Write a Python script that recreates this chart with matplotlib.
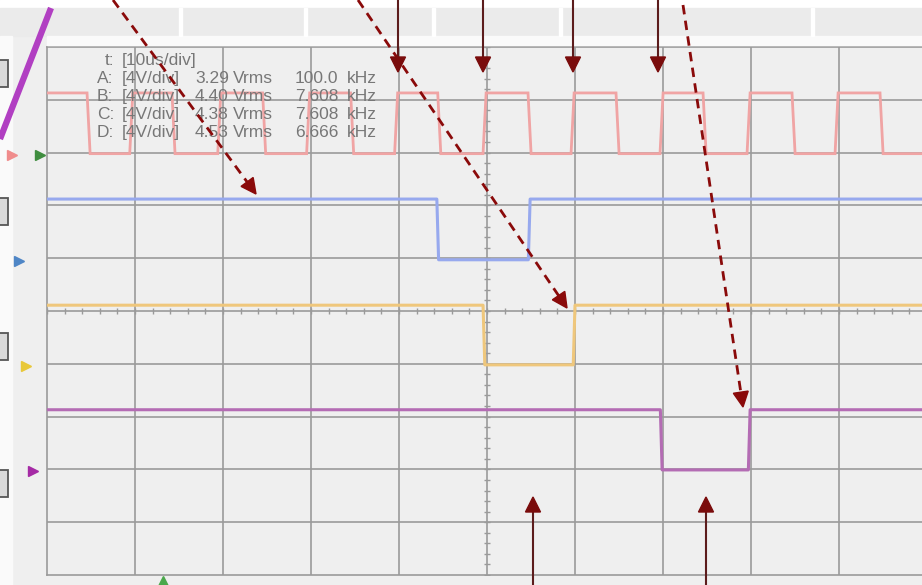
import numpy as np
import matplotlib
matplotlib.use("Agg")
import matplotlib.pyplot as plt
from matplotlib.patches import Rectangle, Polygon

W, H = 922, 585

# ---------------- data (x in divisions of 10 us, y in divisions of 4 V) ----------------
a_fall = [0.455, 1.42, 2.45, 3.45, 4.44, 5.466, 6.466, 7.455, 8.466, 9.466]
a_rise = [0.94, 1.94, 2.95, 3.95, 4.955, 5.955, 6.966, 7.955, 8.955]
a_levels = [7.98, 9.13]          # low, high
b_edges = [4.43, 5.47]
b_levels = [5.97, 7.12]
c_edges = [4.955, 5.98]
c_levels = [3.98, 5.11]
d_edges = [6.97, 7.97]
d_levels = [1.99, 3.13]

timebase = "[10us/div]"
ch_labels = ["A:", "B:", "C:", "D:"]
ch_scale = ["[4V/div]", "[4V/div]", "[4V/div]", "[4V/div]"]
ch_vrms = ["3.29", "4.40", "4.38", "4.53"]
ch_freq = ["100.0", "7.608", "7.608", "6.666"]

# ---------------- figure ----------------
fig = plt.figure(figsize=(W / 100, H / 100), dpi=100)
fig.patch.set_facecolor("#efefef")

px_div_x = 88.0
ax = fig.add_axes([47 / W, (H - 575) / H, (W - 47) / W, 528 / H])
ax.set_facecolor("#efefef")
xmax = (W - 47) / px_div_x
ax.set_xlim(0, xmax)
ax.set_ylim(0, 10)
ax.set_xticks([]); ax.set_yticks([])
gcol = "#9a9a9a"
for s in ["left", "top", "bottom"]:
    ax.spines[s].set_color(gcol); ax.spines[s].set_linewidth(1.2)
ax.spines["right"].set_visible(False)
for i in range(1, 10):
    ax.axvline(i, color=gcol, lw=1.2, zorder=1)
    ax.axhline(i, color=gcol, lw=1.2, zorder=1)
# centre line minor ticks
mt = np.arange(0, 10.01, 0.2)
ax.plot(mt, np.full_like(mt, 5.0), ls="none", marker="|", ms=4, mew=1.0, color=gcol, zorder=1)
ax.plot(np.full_like(mt, 5.0), mt, ls="none", marker="_", ms=4, mew=1.0, color=gcol, zorder=1)


def square(edges, start_high, lo, hi, rt):
    level = hi if start_high else lo
    xs, ys = [0.0], [level]
    for e in sorted(edges):
        xs.append(e); ys.append(level)
        level = lo if level == hi else hi
        xs.append(e + rt); ys.append(level)
    xs.append(xmax + 1); ys.append(level)
    return xs, ys


xa, ya = square(a_fall + a_rise, True, a_levels[0], a_levels[1], 0.035)
ax.plot(xa, ya, color="#f0a4a4", lw=2.0, zorder=3, solid_joinstyle="miter")
xb, yb = square(b_edges, True, b_levels[0], b_levels[1], 0.02)
ax.plot(xb, yb, color="#97a9ee", lw=2.2, zorder=3)
xc, yc = square(c_edges, True, c_levels[0], c_levels[1], 0.02)
ax.plot(xc, yc, color="#efc77c", lw=2.2, zorder=3)
xd, yd = square(d_edges, True, d_levels[0], d_levels[1], 0.02)
ax.plot(xd, yd, color="#b46cb4", lw=2.2, zorder=3)

# ---------------- overlay (pixel coordinates) ----------------
ov = fig.add_axes([0, 0, 1, 1], zorder=5)
ov.set_xlim(0, W); ov.set_ylim(H, 0)
ov.axis("off")
ov.patch.set_alpha(0)

# toolbar & frame
ov.add_patch(Rectangle((0, 0), W, 8, color="white", zorder=1))
ov.add_patch(Rectangle((0, 8), W, 28, color="#ebebeb", zorder=1))
for sx in [180, 305, 433, 560, 812]:
    ov.add_patch(Rectangle((sx - 1.5, 8), 3, 28, color="white", zorder=2))
ov.add_patch(Rectangle((47, 36), W - 47, 9, color="#fafafa", zorder=1))
ov.add_patch(Rectangle((0, 36), 12, H - 36, color="#fafafa", zorder=1))
for by in [60, 198, 333, 470]:
    ov.add_patch(Rectangle((-3, by), 11, 27, facecolor="#d9d9d9", edgecolor="#555555", lw=1.3, zorder=2))

# purple slanted line at top-left
ov.plot([0, 51], [139, 8], color="#b13fc2", lw=4.5, solid_capstyle="butt", zorder=3)

# channel markers
for (mx, my, mc) in [(12, 155, "#f08c8c"), (40, 155, "#3f8d3f"), (19, 261, "#4f86c6"),
                     (26, 366, "#e8c83a"), (33, 471, "#a52aa5")]:
    ov.plot(mx, my, marker=">", ms=7, color=mc, zorder=4)
ov.plot(163, 584, marker="^", ms=11, color="#4aa84b", zorder=4)

# readout text
tcol = "#777777"
tkw = dict(color=tcol, fontsize=12.5, family=["Liberation Sans", "DejaVu Sans"], va="baseline", zorder=6)
ov.text(105, 65, "t:", **tkw)
ov.text(122, 65, timebase, **tkw)
for i in range(4):
    yb_ = 83 + 18 * i
    ov.text(97, yb_, ch_labels[i], **tkw)
    ov.text(122, yb_, ch_scale[i], **tkw)
    ov.text(195, yb_, ch_vrms[i], **tkw)
    ov.text(233, yb_, "Vrms", **tkw)
    ov.text(295, yb_, ch_freq[i], **tkw)
    ov.text(347, yb_, "kHz", **tkw)


def arrow(start, tip, color_line, color_head, lw, ls="-", hl=15, hw=15):
    s = np.array(start, float); t = np.array(tip, float)
    u = (t - s) / np.linalg.norm(t - s)
    n = np.array([-u[1], u[0]])
    base = t - u * hl
    ov.plot([s[0], base[0] + u[0]], [s[1], base[1] + u[1]], color=color_line, lw=lw, ls=ls,
            solid_capstyle="butt", dash_capstyle="butt", zorder=7)
    ov.add_patch(Polygon([t, base + n * hw / 2, base - n * hw / 2], closed=True,
                         color=color_head, zorder=8))


dark = "#5c1c1c"
head = "#7a0c0c"
for x in [398, 483, 573, 658]:
    arrow((x, 0), (x, 72), dark, head, 1.5)
for x in [533, 706]:
    arrow((x, H), (x, 497), dark, head, 1.5)

dash_col = "#8a0a0a"
dls = (0, (3.4, 2.3))
arrow((113, 0), (256, 194), dash_col, dash_col, 2.0, ls=dls)
arrow((358, 0), (567, 308), dash_col, dash_col, 2.0, ls=dls)
arrow((683, 5), (743, 407), dash_col, dash_col, 2.0, ls=dls)

fig.savefig("out.png", dpi=100)
